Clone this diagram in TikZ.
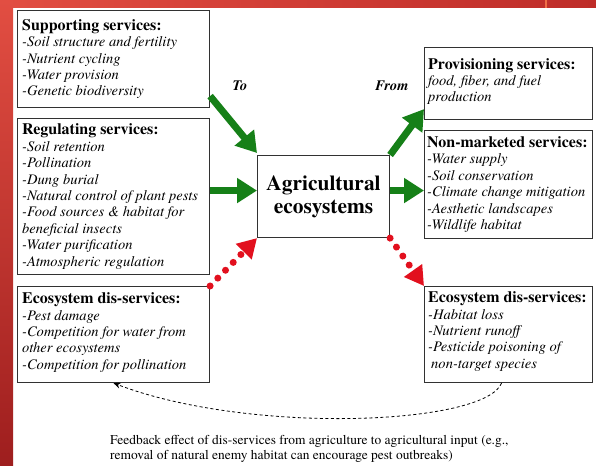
\documentclass[tikz,border=0pt]{standalone}
\usepackage{fontspec}
\setmainfont{texgyretermes-regular.otf}[BoldFont=texgyretermes-bold.otf, ItalicFont=texgyretermes-italic.otf, BoldItalicFont=texgyretermes-bolditalic.otf]
\usetikzlibrary{arrows.meta,calc}
\definecolor{grn}{RGB}{22,128,24}
\definecolor{rd}{RGB}{226,16,30}
\definecolor{boxline}{RGB}{50,50,50}
\definecolor{bgA}{RGB}{226,78,66}
\definecolor{bgB}{RGB}{158,30,30}
\definecolor{bgC}{RGB}{190,44,40}
\definecolor{orng}{RGB}{240,110,70}
\newcommand\boxtitle[1]{{\upshape\bfseries\fontsize{16}{16.5}\selectfont #1}}
\begin{document}
\begin{tikzpicture}[x=1bp,y=-1bp,
  box/.style={draw=boxline, line width=1.1bp, anchor=north west, inner sep=0pt},
  txt/.style={anchor=west, inner sep=0pt, align=left, font=\fontsize{14.6}{16.5}\selectfont\itshape},
  garrow/.style={draw=grn, line width=7bp, -{Triangle[width=24bp,length=20bp,fill=grn]}},
  rarrow/.style={draw=rd, line width=7bp, line cap=round, dash pattern=on 0.01bp off 11bp, -{Triangle[width=21bp,length=19bp,fill=rd]}},
  fbline/.style={draw=black, line width=0.8bp, dash pattern=on 3bp off 2.5bp, -{Stealth[length=7bp,width=6bp]}},
  lbl/.style={font=\fontsize{14.5}{16}\selectfont\bfseries\itshape, inner sep=0pt}]
\useasboundingbox (0,0) rectangle (596,466);
\fill[white] (0,0) rectangle (596,466);
\shade[left color=bgA, right color=bgC] (0,0) rectangle (596,8);
\shade[top color=bgA, bottom color=bgB] (0,0) rectangle (13,466);
\draw[orng, line width=1.5bp] (546,0) -- (546,8);

% boxes
\node[box, minimum width=192bp, minimum height=97bp] (sup) at (17,10) {};
\node[txt] (supT) at ([xshift=5bp]sup.west) {\boxtitle{Supporting services:}\\-Soil structure and fertility\\-Nutrient cycling\\-Water provision\\-Genetic biodiversity};

\node[box, minimum width=192bp, minimum height=156bp] (reg) at (17,118) {};
\node[txt] (regT) at ([xshift=5bp]reg.west) {\boxtitle{Regulating services:}\\-Soil retention\\-Pollination\\-Dung burial\\-Natural control of plant pests\\-Food sources \& habitat for\\beneficial insects\\-Water purification\\-Atmospheric regulation};

\node[box, minimum width=192bp, minimum height=96bp] (dl) at (17,286) {};
\node[txt] (dlT) at ([xshift=5bp,yshift=2bp]dl.west) {\boxtitle{Ecosystem dis-services:}\\-Pest damage\\-Competition for water from\\other ecosystems\\-Competition for pollination};

\node[box, minimum width=132bp, minimum height=82bp, align=center, font=\fontsize{21.5}{23}\selectfont\bfseries] (agri) at (257,155) {Agricultural\\ecosystems};

\node[box, minimum width=168bp, minimum height=72bp] (prov) at (424,47) {};
\node[txt] (provT) at ([xshift=4bp,yshift=2bp]prov.west) {\boxtitle{Provisioning services:}\\food, fiber, and fuel\\production};

\node[box, minimum width=168bp, minimum height=108bp] (nonm) at (424,130) {};
\node[txt] (nonmT) at ([xshift=3bp]nonm.west) {\boxtitle{Non-marketed services:}\\-Water supply\\-Soil conservation\\-Climate change mitigation\\-Aesthetic landscapes\\-Wildlife habitat};

\node[box, minimum width=168bp, minimum height=96bp] (dr) at (424,286) {};
\node[txt] (drT) at ([xshift=4bp,yshift=3bp]dr.west) {\boxtitle{Ecosystem dis-services:}\\-Habitat loss\\-Nutrient runoff\\-Pesticide poisoning of\\\hspace{3bp}non-target species};

\node[lbl] (to) at (240,86) {To};
\node[lbl] (from) at (392,86) {From};

\node[anchor=north west, align=left, inner sep=0pt, font=\fontsize{13.5}{15.5}\selectfont] (fbtext) at (110,435) {Feedback effect of dis-services from agriculture to agricultural input (e.g.,\\removal of natural enemy habitat can encourage pest outbreaks)};

% connectors
\draw[garrow] ([yshift=12bp]sup.south east) -- ([yshift=2bp]agri.north west);
\draw[garrow] ([yshift=6bp]reg.east) -- ([yshift=6bp]reg.east -| agri.west);
\draw[garrow] (agri.north east) -- ([yshift=11bp]prov.south west);
\draw[garrow] ([yshift=6bp]agri.east) -- ([yshift=6bp]agri.east -| nonm.west);
\draw[rarrow] (dl.north east) -- (agri.south west);
\draw[rarrow] (agri.south east) -- (dr.north west);
\draw[fbline] ([xshift=-7bp]dr.south) .. controls (485,425) and (250,435) .. (dl.south);
\end{tikzpicture}
\end{document}
